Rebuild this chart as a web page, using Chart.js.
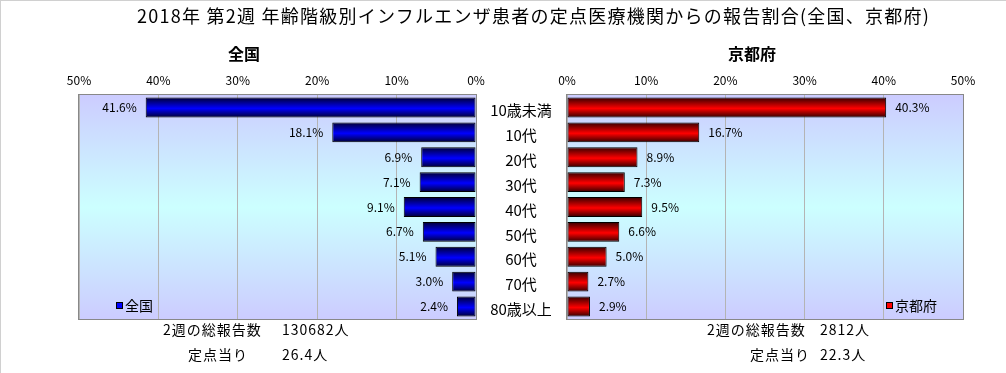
<!DOCTYPE html>
<html>
<head>
<meta charset="utf-8">
<script src="https://cdn.jsdelivr.net/npm/chart.js@4/dist/chart.umd.min.js"></script>
<style>
body { margin: 0; background: #fff; }
#wrap { position: relative; width: 1006px; height: 373px; overflow: hidden; background: #fff; }
#wrap canvas { position: absolute; left: 0; top: 0; }
.frame { position: absolute; left: 0; top: 0; width: 1006px; height: 373px; border-top: 1px solid #d0d0d0; border-left: 1px solid #d0d0d0; box-sizing: border-box; }
.t { position: absolute; white-space: nowrap; font-family: "Noto Sans CJK JP", sans-serif; color: #000; line-height: 20px; }
.sq { position: absolute; width: 5px; height: 5px; border: 1px solid #000; }
</style>
</head>
<body>
<div id="wrap">
  <canvas id="chartZenkoku" width="1006" height="373"></canvas>
  <canvas id="chartKyoto" width="1006" height="373"></canvas>
  <div class="frame"></div>

  <div class="t" style="left:137px;top:5px;font-size:18px;letter-spacing:1.25px;">2018年 第2週 年齢階級別インフルエンザ患者の定点医療機関からの報告割合(全国、京都府)</div>
  <div class="t" style="left:228px;top:43px;font-size:16px;font-weight:bold;">全国</div>
  <div class="t" style="left:728px;top:43px;font-size:16px;font-weight:bold;">京都府</div>

  <div class="sq" style="left:116px;top:302px;background:#0000ff;"></div>
  <div class="t" style="left:125px;top:295px;font-size:14px;">全国</div>
  <div class="sq" style="left:886px;top:302px;background:#ff0000;"></div>
  <div class="t" style="left:895px;top:295px;font-size:14px;">京都府</div>

  <div class="t" style="left:163px;top:319px;font-size:14px;letter-spacing:1px;">2週の総報告数</div>
  <div class="t" style="left:282px;top:319px;font-size:14px;letter-spacing:1px;">130682人</div>
  <div class="t" style="left:188px;top:344px;font-size:14px;letter-spacing:1px;">定点当り</div>
  <div class="t" style="left:282px;top:344px;font-size:14px;letter-spacing:1px;">26.4人</div>

  <div class="t" style="left:707px;top:319px;font-size:14px;letter-spacing:1px;">2週の総報告数</div>
  <div class="t" style="left:820px;top:319px;font-size:14px;letter-spacing:1px;">2812人</div>
  <div class="t" style="left:750px;top:344px;font-size:14px;letter-spacing:1px;">定点当り</div>
  <div class="t" style="left:820px;top:344px;font-size:14px;letter-spacing:1px;">22.3人</div>
</div>

<script>
// 年齢階級
const ageGroups = ['10歳未満', '10代', '20代', '30代', '40代', '50代', '60代', '70代', '80歳以上'];

// 報告割合 (%)
const zenkokuValues = [41.6, 18.1, 6.9, 7.1, 9.1, 6.7, 5.1, 3.0, 2.4];
const kyotoValues = [40.3, 16.7, 8.9, 7.3, 9.5, 6.6, 5.0, 2.7, 2.9];

// 目盛り
const axisMin = 0;
const axisMax = 50;
const axisStep = 10;

const fontFamily = '"Noto Sans CJK JP", sans-serif';

// 棒のグラデーション（上下が暗く中央が明るい）
function barGradient(context, dark, bright) {
    const chart = context.chart;
    const area = chart.chartArea;
    const yScale = chart.scales.y;
    if (!area || !yScale) return bright;
    const y = yScale.getPixelForValue(context.dataIndex);
    const h = (area.bottom - area.top) / ageGroups.length * 0.8 / 2;
    const g = chart.ctx.createLinearGradient(0, y - h, 0, y + h);
    g.addColorStop(0, dark);
    g.addColorStop(0.55, bright);
    g.addColorStop(1, dark);
    return g;
}

// プロットエリアの背景と枠
const plotArea = {
    id: 'plotArea',
    beforeDraw(chart) {
        const { ctx, chartArea: a } = chart;
        const g = ctx.createLinearGradient(0, a.top, 0, a.bottom);
        g.addColorStop(0, '#ccccff');
        g.addColorStop(0.5, '#ccffff');
        g.addColorStop(1, '#ccccff');
        ctx.save();
        ctx.fillStyle = g;
        ctx.fillRect(a.left, a.top, a.right - a.left, a.bottom - a.top);
        ctx.restore();
    },
    beforeDatasetsDraw(chart) {
        const { ctx, chartArea: a } = chart;
        ctx.save();
        ctx.strokeStyle = '#888888';
        ctx.lineWidth = 1;
        ctx.strokeRect(Math.round(a.left) - 0.5, Math.round(a.top) - 0.5, Math.round(a.right - a.left) + 1, Math.round(a.bottom - a.top) + 1);
        ctx.restore();
    }
};

// 値ラベル
const valueLabels = {
    id: 'valueLabels',
    afterDatasetsDraw(chart, args, opts) {
        const { ctx } = chart;
        const meta = chart.getDatasetMeta(0);
        const values = chart.data.datasets[0].data;
        ctx.save();
        ctx.font = '12px ' + fontFamily;
        ctx.fillStyle = '#000';
        ctx.textBaseline = 'middle';
        meta.data.forEach((bar, i) => {
            const text = values[i].toFixed(1) + '%';
            if (opts.side === 'left') {
                ctx.textAlign = 'right';
                ctx.fillText(text, bar.x - 9, bar.y);
            } else {
                ctx.textAlign = 'left';
                ctx.fillText(text, bar.x + 9, bar.y);
            }
        });
        ctx.restore();
    }
};

// 中央の年齢階級ラベル
const categoryLabels = {
    id: 'categoryLabels',
    afterDraw(chart) {
        const { ctx } = chart;
        const yScale = chart.scales.y;
        ctx.save();
        ctx.font = '15px ' + fontFamily;
        ctx.fillStyle = '#000';
        ctx.textAlign = 'center';
        ctx.textBaseline = 'middle';
        ageGroups.forEach((label, i) => {
            ctx.fillText(label, 521, yScale.getPixelForValue(i) + 3);
        });
        ctx.restore();
    }
};

function makeOptions(reverse, padding, side) {
    return {
        indexAxis: 'y',
        responsive: false,
        animation: false,
        layout: { padding: padding },
        plugins: {
            legend: { display: false },
            tooltip: { enabled: false },
            valueLabels: { side: side }
        },
        scales: {
            x: {
                position: 'top',
                reverse: reverse,
                min: axisMin,
                max: axisMax,
                afterFit(scale) { scale.height = 22; },
                ticks: {
                    stepSize: axisStep,
                    padding: 7,
                    color: '#000',
                    font: { family: fontFamily, size: 12 },
                    callback: v => v + '%'
                },
                grid: { color: '#b4b4b4', drawTicks: false },
                border: { display: false }
            },
            y: { display: false }
        }
    };
}

new Chart(document.getElementById('chartZenkoku'), {
    type: 'bar',
    data: {
        labels: ageGroups,
        datasets: [{
            label: '全国',
            data: zenkokuValues,
            backgroundColor: c => barGradient(c, '#000033', '#0000ff'),
            borderColor: '#000000',
            borderWidth: 1,
            borderSkipped: false,
            categoryPercentage: 1,
            barPercentage: 0.8
        }]
    },
    options: makeOptions(true, { left: 79, right: 530, top: 73, bottom: 54 }, 'left'),
    plugins: [plotArea, valueLabels]
});

new Chart(document.getElementById('chartKyoto'), {
    type: 'bar',
    data: {
        labels: ageGroups,
        datasets: [{
            label: '京都府',
            data: kyotoValues,
            backgroundColor: c => barGradient(c, '#330000', '#ff0000'),
            borderColor: '#000000',
            borderWidth: 1,
            borderSkipped: false,
            categoryPercentage: 1,
            barPercentage: 0.8
        }]
    },
    options: makeOptions(false, { left: 567, right: 43, top: 73, bottom: 54 }, 'right'),
    plugins: [plotArea, valueLabels, categoryLabels]
});
</script>
</body>
</html>
